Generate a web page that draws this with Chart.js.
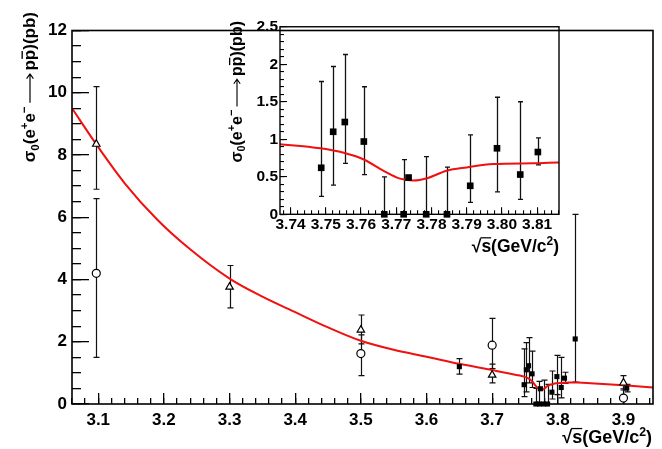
<!DOCTYPE html>
<html>
<head>
<meta charset="utf-8">
<script src="https://cdn.jsdelivr.net/npm/chart.js@4.4.0/dist/chart.umd.min.js"></script>
<style>
  body { margin: 0; background: #fff; }
  #wrap { position: relative; width: 662px; height: 449px; }
  #main { position: absolute; left: 0; top: 0; }
  #inset { position: absolute; left: 220px; top: 10px; }
</style>
</head>
<body>
<div id="wrap">
  <canvas id="main" width="662" height="449"></canvas>
  <canvas id="inset" width="350" height="252"></canvas>
</div>
<script>
// open triangles
const triX = [3.097, 3.30, 3.50, 3.70, 3.90];
const triY = [8.35, 3.76, 2.38, 0.93, 0.68];
const triUp = [1.85, 0.69, 0.48, 0.35, 0.23];
const triDn = [1.45, 0.67, 0.45, 0.25, 0.23];

// open circles
const cirX = [3.097, 3.50, 3.70, 3.90];
const cirY = [4.20, 1.62, 1.89, 0.19];
const cirUp = [2.40, 0.60, 0.86, 0.30];
const cirDn = [2.70, 0.71, 0.75, 0.19];

// filled squares (scan points around 3.77)
const sqX = [3.650, 3.7487, 3.7521, 3.7554, 3.7608, 3.7666, 3.7721, 3.7735, 3.7785, 3.7844, 3.7910, 3.7986, 3.8052, 3.8102, 3.8265, 3.905];
const sqY = [1.20, 0.62, 1.10, 1.23, 0.97, 0, 0, 0.49, 0, 0, 0.38, 0.88, 0.53, 0.83, 2.09, 0.51];
const sqUp = [0.26, 1.15, 0.87, 0.90, 0.73, 0.50, 0.73, 0.03, 0.77, 0.63, 0.68, 0.68, 0.97, 0.19, 4.00, 0.12];
const sqDn = [0.24, 0.38, 0.71, 0.55, 0.44, 0, 0, 0.03, 0, 0, 0.22, 0.58, 0.33, 0.17, 1.39, 0.12];

// fitted cross section
const fitX = [3.06, 3.10, 3.14, 3.19, 3.24, 3.30, 3.35, 3.40, 3.45, 3.50, 3.55, 3.60, 3.65, 3.70, 3.737, 3.7485, 3.7551, 3.7608, 3.7664, 3.7711, 3.7749, 3.7787, 3.7843, 3.790, 3.7975, 3.8089, 3.816, 3.83, 3.85, 3.90, 3.945];
const fitY = [9.50, 8.25, 7.10, 5.92, 4.97, 4.03, 3.45, 2.95, 2.46, 2.03, 1.74, 1.52, 1.29, 1.09, 0.935, 0.88, 0.82, 0.73, 0.58, 0.475, 0.45, 0.48, 0.58, 0.625, 0.67, 0.68, 0.69, 0.69, 0.67, 0.60, 0.53];

// tick labels
const mainXTicks = [3.1, 3.2, 3.3, 3.4, 3.5, 3.6, 3.7, 3.8, 3.9];
const mainYTicks = [0, 2, 4, 6, 8, 10, 12];
const insetXTicks = [3.74, 3.75, 3.76, 3.77, 3.78, 3.79, 3.80, 3.81];
const insetYTicks = [0, 0.5, 1, 1.5, 2, 2.5];

// axis ranges
const mainXRange = [3.06, 3.945];
const mainYRange = [0, 12];
const insetXRange = [3.737, 3.8162];
const insetYRange = [0, 2.5];

// minor tick positions on a fixed step inside a range
function tickSteps(range, step) {
  const out = [];
  const n0 = Math.ceil(range[0] / step - 1e-6);
  const n1 = Math.floor(range[1] / step + 1e-6);
  for (let n = n0; n <= n1; n++) out.push(n * step);
  return out;
}
const mainXMinor = tickSteps(mainXRange, 0.02);
const mainYMinor = tickSteps(mainYRange, 0.5);
const insetXMinor = tickSteps(insetXRange, 0.002);
const insetYMinor = tickSteps(insetYRange, 0.1);

const FONT = '"Liberation Sans", Arial, Helvetica, sans-serif';

const pts = (xs, ys) => xs.map((x, i) => ({ x: x, y: ys[i] }));

// axis title pieces
const yTitle = [
  { t: 'σ' }, { t: '0', sub: true }, { t: '(e' }, { t: '+', sup: true }, { t: 'e' },
  { t: '−', sup: true }, { arrow: 2.1 }, { t: 'p' }, { t: 'p', bar: true }, { t: ')(pb)' }
];
const xTitle = [{ t: '√' }, { t: 's', bar: true, root: true }, { t: '(GeV/c' }, { t: '2', sup: true }, { t: ')' }];

function pieceFont(p, size) {
  const s = (p.sub || p.sup) ? size * 0.68 : size;
  return 'bold ' + s + 'px ' + FONT;
}

function pieceWidth(ctx, p, size) {
  if (p.arrow) return p.arrow * size;
  ctx.font = pieceFont(p, size);
  return ctx.measureText(p.t).width;
}

function richWidth(ctx, parts, size) {
  return parts.reduce((w, p) => w + pieceWidth(ctx, p, size), 0);
}

function richDraw(ctx, parts, size) {
  let x = 0;
  ctx.textAlign = 'left';
  ctx.textBaseline = 'alphabetic';
  parts.forEach(p => {
    const w = pieceWidth(ctx, p, size);
    if (p.arrow) {
      // thin right arrow
      const y = -size * 0.3, x0 = x + size * 0.2, x1 = x + w - size * 0.2;
      ctx.save();
      ctx.lineWidth = size * 0.07;
      ctx.beginPath();
      ctx.moveTo(x0, y); ctx.lineTo(x1, y);
      ctx.moveTo(x1 - size * 0.28, y - size * 0.2); ctx.lineTo(x1, y); ctx.lineTo(x1 - size * 0.28, y + size * 0.2);
      ctx.stroke();
      ctx.restore();
    } else {
      ctx.font = pieceFont(p, size);
      const dy = p.sub ? size * 0.22 : p.sup ? -size * 0.4 : 0;
      ctx.fillText(p.t, x, dy);
      if (p.bar) {
        if (p.root) ctx.fillRect(x - 1, -size * 0.86, w + 1, size * 0.07);
        else ctx.fillRect(x + w * 0.12, -size * 0.8, w * 0.76, size * 0.08);
      }
    }
    x += w;
  });
}

// error bars under the markers; frame and axis titles on top
function decorPlugin(o) {
  return {
    id: 'decor',
    beforeDatasetsDraw(chart) {
      const ctx = chart.ctx;
      const a = chart.chartArea;
      const xs = chart.scales.x, ys = chart.scales.y;
      ctx.save();
      ctx.beginPath();
      ctx.rect(a.left, a.top - 2, a.right - a.left, a.bottom - a.top + 4);
      ctx.clip();
      ctx.strokeStyle = '#111';
      ctx.lineWidth = o.errWidth;
      const c = o.cap;
      chart.data.datasets.forEach(ds => {
        if (!ds.errUp) return;
        ds.data.forEach((p, i) => {
          const px = Math.round(xs.getPixelForValue(p.x)) + 0.5;
          const top = ys.getPixelForValue(p.y + ds.errUp[i]);
          const bot = ys.getPixelForValue(p.y - ds.errDn[i]);
          ctx.beginPath();
          ctx.moveTo(px, top);
          ctx.lineTo(px, bot);
          if (ds.errUp[i] > 0.05) { ctx.moveTo(px - c, top); ctx.lineTo(px + c, top); }
          if (ds.errDn[i] > 0.05 && p.y - ds.errDn[i] > 0.01) { ctx.moveTo(px - c, bot); ctx.lineTo(px + c, bot); }
          ctx.stroke();
        });
      });
      ctx.restore();
    },
    afterDraw(chart) {
      const ctx = chart.ctx;
      const a = chart.chartArea;
      ctx.save();
      ctx.fillStyle = '#000';
      ctx.strokeStyle = '#000';
      ctx.lineWidth = o.frameWidth;
      ctx.strokeRect(a.left, a.top, a.right - a.left, a.bottom - a.top);

      const tx = o.xTitle;
      const wx = richWidth(ctx, xTitle, tx.size);
      ctx.save();
      ctx.translate(tx.right - wx, tx.cy + tx.size * 0.3);
      richDraw(ctx, xTitle, tx.size);
      ctx.restore();
      const ty = o.yTitle;
      const wy = richWidth(ctx, yTitle, ty.size);
      ctx.save();
      ctx.translate(ty.cx + ty.size * 0.3, ty.top + wy);
      ctx.rotate(-Math.PI / 2);
      richDraw(ctx, yTitle, ty.size);
      ctx.restore();
      ctx.restore();
    }
  };
}

// grid that only draws tick marks, pointing into the plot (negative length)
function inwardTicks(len, width) {
  return {
    display: true, drawOnChartArea: false, drawTicks: true, tickLength: -len,
    color: '#000', tickColor: '#000', lineWidth: width, tickWidth: width
  };
}

// labelled axis with the long ticks
function majorAxis(axis, range, values, fmt, size, extent, len, pad, width) {
  return {
    type: 'linear', axis: axis, position: axis === 'x' ? 'bottom' : 'left', weight: 1,
    min: range[0], max: range[1],
    afterBuildTicks: s => { s.ticks = values.map(v => ({ value: v })); },
    afterFit: s => { if (axis === 'x') s.height = extent; else s.width = extent; },
    grid: inwardTicks(len, width),
    border: { display: false },
    ticks: {
      color: '#000', padding: pad + len, maxRotation: 0, autoSkip: false,
      font: { family: FONT, size: size, weight: 'bold', lineHeight: 1 },
      callback: fmt
    }
  };
}

// unlabelled zero-size axis next to the plot carrying the short ticks
function minorAxis(axis, range, values, len, width) {
  return {
    type: 'linear', axis: axis, position: axis === 'x' ? 'bottom' : 'left', weight: -1,
    min: range[0], max: range[1],
    afterBuildTicks: s => { s.ticks = values.map(v => ({ value: v })); },
    afterFit: s => { if (axis === 'x') s.height = 0; else s.width = 0; },
    grid: inwardTicks(len, width),
    border: { display: false },
    ticks: { display: false, autoSkip: false }
  };
}

function squares(radius) {
  return { data: pts(sqX, sqY), errUp: sqUp, errDn: sqDn, pointStyle: 'rect', pointRadius: radius,
    backgroundColor: '#000', borderColor: '#000', borderWidth: 0, clip: false, xAxisID: 'x', yAxisID: 'y' };
}

function fitLine() {
  return { data: pts(fitX, fitY), showLine: true, borderColor: '#f01010', borderWidth: 2,
    pointRadius: 0, cubicInterpolationMode: 'monotone', fill: false, xAxisID: 'x', yAxisID: 'y' };
}

new Chart(document.getElementById('main'), {
  type: 'scatter',
  data: {
    datasets: [
      squares(3.6),
      { data: pts(triX, triY), errUp: triUp, errDn: triDn, pointStyle: 'triangle', pointRadius: 4.3,
        backgroundColor: '#fff', borderColor: '#000', borderWidth: 1.2, clip: false, xAxisID: 'x', yAxisID: 'y' },
      { data: pts(cirX, cirY), errUp: cirUp, errDn: cirDn, pointStyle: 'circle', pointRadius: 4,
        backgroundColor: '#fff', borderColor: '#000', borderWidth: 1.2, clip: false, xAxisID: 'x', yAxisID: 'y' },
      fitLine()
    ]
  },
  options: {
    responsive: false, animation: false, devicePixelRatio: 1,
    layout: { padding: { left: 0, right: 9, top: 9, bottom: 0 } },
    plugins: { legend: { display: false }, tooltip: { enabled: false } },
    scales: {
      x: majorAxis('x', mainXRange, mainXTicks, v => v.toFixed(1), 17, 45, 11, 8, 1.3),
      y: majorAxis('y', mainYRange, mainYTicks, v => String(v), 17, 72, 17, 5, 1.3),
      x2: minorAxis('x', mainXRange, mainXMinor, 6, 1.3),
      y2: minorAxis('y', mainYRange, mainYMinor, 9, 1.3)
    }
  },
  plugins: [
    decorPlugin({ frameWidth: 1.6, errWidth: 1.2, cap: 3,
                  xTitle: { right: 652, cy: 438, size: 18 }, yTitle: { cx: 30, top: 12, size: 17 } })
  ]
});

new Chart(document.getElementById('inset'), {
  type: 'scatter',
  data: { datasets: [squares(4.7), fitLine()] },
  options: {
    responsive: false, animation: false, devicePixelRatio: 1,
    layout: { padding: { left: 0, right: 11, top: 11.7, bottom: 0 } },
    plugins: { legend: { display: false }, tooltip: { enabled: false } },
    scales: {
      x: majorAxis('x', insetXRange, insetXTicks, v => v.toFixed(2), 15.5, 47.7, 7, 3, 1.1),
      y: majorAxis('y', insetYRange, insetYTicks, v => String(v), 15.5, 60, 7, 2, 1.1),
      x2: minorAxis('x', insetXRange, insetXMinor, 4, 1.1),
      y2: minorAxis('y', insetYRange, insetYMinor, 4, 1.1)
    }
  },
  plugins: [
    decorPlugin({ frameWidth: 1.4, errWidth: 1.3, cap: 2.5,
                  xTitle: { right: 339, cy: 237, size: 17.5 }, yTitle: { cx: 17, top: 11, size: 16 } })
  ]
});
</script>
</body>
</html>
